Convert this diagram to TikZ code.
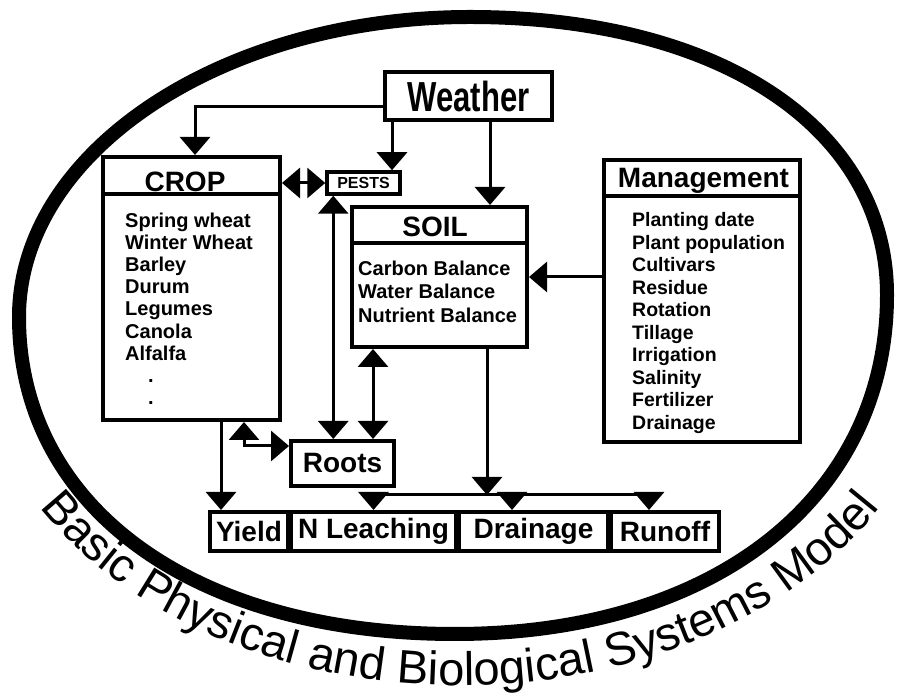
\documentclass[tikz,border=0pt]{standalone}
\usepackage{fontspec}
\setmainfont{Liberation Sans}
\usepackage{graphicx}
\usetikzlibrary{arrows.meta,decorations.text}
\newcommand{\headfont}{\bfseries\fontsize{28}{28}\selectfont}
\tikzset{
  box/.style={draw, line width=4pt, fill=white, inner sep=0pt},
  head/.style={font=\headfont, inner sep=0pt},
  list/.style={font=\bfseries\fontsize{20}{22.2}\selectfont, align=left, inner sep=0pt, anchor=north west},
  line/.style={line width=3pt},
  arr/.style={line width=3pt, -{Triangle[width=30pt,length=18pt]}},
  dbl/.style={line width=3pt, {Triangle[width=30pt,length=18pt]}-{Triangle[width=30pt,length=18pt]}}
}
\begin{document}
\begin{tikzpicture}[x=1pt, y=1pt]
\useasboundingbox (0,0) rectangle (899,695);
\fill[white] (0,0) rectangle (899,695);

% the ring
\draw[line width=14pt] (19,378) .. controls (19,543) and (222,678) .. (470,678)
  .. controls (720,678) and (887,567) .. (887,400)
  .. controls (887,197) and (714,61) .. (455,61)
  .. controls (193,61) and (19,188) .. cycle;
\path[decorate, decoration={text along path, text align=center,
  text={|\fontsize{47}{47}\selectfont|Basic Physical and Biological Systems Model}}]
  (460,371.5) ++(205:488 and 362) arc[start angle=205, end angle=335, x radius=488, y radius=362];

% boxes
\node[box, minimum width=167pt, minimum height=48pt] (weather) at (468.5,599) {\scalebox{0.74}[1]{\bfseries\fontsize{42}{42}\selectfont Weather}};

\node[box, minimum width=177pt, minimum height=263pt] (crop) at (191.5,406.5) {};
\node[head] (crophead) at (185,513) {CROP};
\draw[line width=4pt] ([yshift=-39pt]crop.north west) -- ([yshift=-39pt]crop.north east);
\node[list] (croplist) at (125,482.6) {Spring wheat\\Winter Wheat\\Barley\\Durum\\Legumes\\Canola\\Alfalfa\\\hspace*{23pt}.\\\hspace*{23pt}.};

\node[box, line width=3.5pt, minimum width=73pt, minimum height=22pt, font=\bfseries\fontsize{16}{16}\selectfont] (pests) at (363.5,512) {PESTS};

\node[box, minimum width=175pt, minimum height=140pt] (soil) at (439.5,418) {};
\node[head] (soilhead) at (435,468) {SOIL};
\draw[line width=4pt] ([yshift=-38pt]soil.north west) -- ([yshift=-38pt]soil.north east);
\node[list, font=\bfseries\fontsize{20}{23.5}\selectfont] (soillist) at (358,434.6) {Carbon Balance\\Water Balance\\Nutrient Balance};

\node[box, minimum width=196pt, minimum height=282pt] (mgmt) at (702,394) {};
\node[head] (mgmthead) at (703.5,514) {Management};
\draw[line width=4pt] ([yshift=-38pt]mgmt.north west) -- ([yshift=-38pt]mgmt.north east);
\node[list, font=\bfseries\fontsize{19.5}{22.5}\selectfont] (mgmtlist) at (632,482.6) {Planting date\\Plant population\\Cultivars\\Residue\\Rotation\\Tillage\\Irrigation\\Salinity\\Fertilizer\\Drainage};

\node[box, minimum width=103pt, minimum height=45pt, font=\headfont] (roots) at (342.5,231.5) {Roots};

\node[box, minimum width=78pt, minimum height=39pt, font=\headfont] (yield) at (249,163.5) {Yield};
\node[box, minimum width=165pt, minimum height=39pt, font=\headfont] (nleach) at (373.5,163.5) {N Leaching};
\node[box, minimum width=149pt, minimum height=39pt, font=\headfont] (drain) at (533.5,163.5) {Drainage};
\node[box, minimum width=108pt, minimum height=39pt, font=\headfont] (runoff) at (665,163.5) {Runoff};

% connectors
\draw[arr] ([yshift=-11pt]weather.west) -| ([xshift=3.5pt]crop.north);
\draw[arr] ([xshift=-76.5pt]weather.south) -- ([xshift=-76.5pt]weather.south |- pests.north);
\draw[arr] ([xshift=21.5pt]weather.south) -- ([xshift=21.5pt]weather.south |- soil.north);
\draw[dbl] (crop.east |- pests.west) -- (pests.west);
\draw[dbl] ([xshift=8pt]pests.south west) -- ([xshift=8pt]pests.south west |- roots.north);
\draw[dbl] ([xshift=23pt]soil.south west) -- ([xshift=23pt]soil.south west |- roots.north);
\draw[arr] (mgmt.west |- soil.east) -- (soil.east);
\draw[arr] ([xshift=13pt]yield.north west |- crop.south) -- ([xshift=13pt]yield.north west);
\draw[dbl] ([xshift=143pt]crop.south west) |- ([yshift=17.5pt]roots.west);

\coordinate (bus) at (487,200);
\coordinate (drtop) at ([xshift=55pt]drain.north west);
\coordinate (rotop) at ([xshift=40pt]runoff.north west);
\draw[arr] ([xshift=47.5pt]soil.south) -- (bus);
\draw[line] (bus -| nleach.north) -- (bus -| rotop);
\draw[arr] (bus -| nleach.north) -- (nleach.north);
\draw[arr] (bus -| drtop) -- (drtop);
\draw[arr] (bus -| rotop) -- (rotop);
\end{tikzpicture}
\end{document}
